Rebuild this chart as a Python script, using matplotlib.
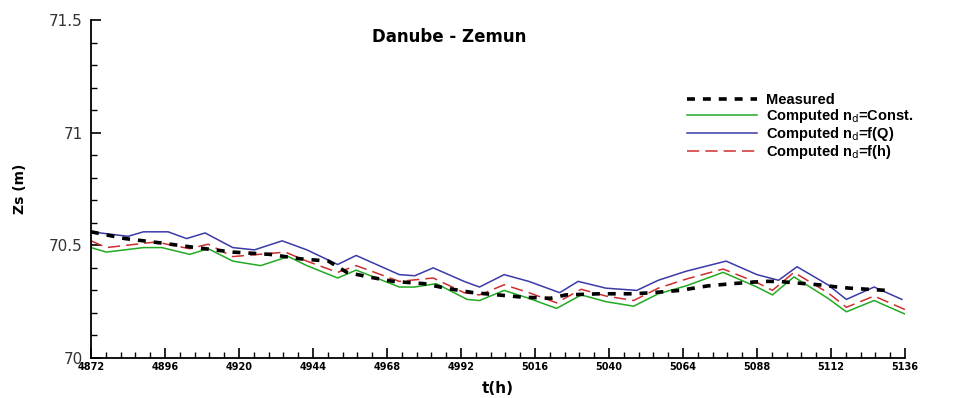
import matplotlib.pyplot as plt
from matplotlib.ticker import MultipleLocator

# measured water level
t_meas = [4872, 4883, 4895, 4906, 4918, 4930, 4940, 4949, 4955, 4962, 4970, 4980,
          4987, 4996, 5008, 5012, 5021, 5026, 5037, 5048, 5054, 5063, 5072, 5080,
          5090, 5095, 5099, 5108, 5114, 5118, 5124, 5130]
z_meas = [70.56, 70.53, 70.51, 70.49, 70.47, 70.46, 70.44, 70.43, 70.38, 70.36, 70.34, 70.33,
          70.31, 70.29, 70.275, 70.27, 70.265, 70.28, 70.285, 70.285, 70.29, 70.30, 70.32, 70.33,
          70.34, 70.34, 70.335, 70.325, 70.315, 70.31, 70.305, 70.30]

# computed, n = const
t_c = [4872, 4877, 4889, 4895, 4904, 4910, 4918, 4927, 4936, 4942, 4952, 4958, 4972, 4977,
       4984, 4994, 4998, 5006, 5014, 5023, 5031, 5039, 5048, 5056, 5065, 5077, 5088, 5093,
       5100, 5111, 5117, 5126, 5136]
z_const = [70.49, 70.47, 70.49, 70.49, 70.46, 70.485, 70.43, 70.41, 70.45, 70.41, 70.355, 70.39,
           70.315, 70.315, 70.33, 70.26, 70.255, 70.30, 70.265, 70.22, 70.28, 70.25, 70.23, 70.285,
           70.32, 70.38, 70.315, 70.28, 70.36, 70.265, 70.205, 70.255, 70.195]

# computed, n = f(Q)
t_q = [4872, 4884, 4889, 4897, 4903, 4909, 4918, 4925, 4934, 4942, 4952, 4958, 4972, 4977,
       4983, 4993, 4998, 5006, 5014, 5024, 5030, 5039, 5049, 5056, 5065, 5078, 5088, 5095,
       5101, 5111, 5117, 5126, 5135]
z_fq = [70.56, 70.54, 70.56, 70.56, 70.53, 70.555, 70.49, 70.48, 70.52, 70.48, 70.415, 70.455,
        70.37, 70.365, 70.40, 70.34, 70.315, 70.37, 70.34, 70.29, 70.34, 70.31, 70.30, 70.345,
        70.385, 70.43, 70.37, 70.345, 70.405, 70.325, 70.26, 70.315, 70.26]

# computed, n = f(h)
t_h = [4872, 4877, 4893, 4904, 4910, 4918, 4935, 4942, 4952, 4958, 4972, 4983, 4993, 4998,
       5006, 5014, 5023, 5031, 5039, 5048, 5056, 5065, 5077, 5088, 5093, 5100, 5111, 5117,
       5126, 5136]
z_fh = [70.52, 70.49, 70.515, 70.485, 70.505, 70.45, 70.47, 70.43, 70.38, 70.41, 70.34, 70.355,
        70.29, 70.28, 70.325, 70.29, 70.245, 70.305, 70.275, 70.255, 70.31, 70.35, 70.395, 70.335,
        70.30, 70.38, 70.29, 70.225, 70.275, 70.215]

fig = plt.figure(figsize=(9.55, 3.98), dpi=100)
ax = fig.add_axes([0.0953, 0.1005, 0.8523, 0.8492])

ax.plot(t_meas, z_meas, '--', color='black', lw=2.6, dashes=(2.2, 2.2), label='Measured', zorder=4)
ax.plot(t_c, z_const, '-', color='#22aa22', lw=1.1, label=r'Computed n$_{\rm d}$=Const.')
ax.plot(t_q, z_fq, '-', color='#3a3aa8', lw=1.1, label=r'Computed n$_{\rm d}$=f(Q)')
ax.plot(t_h, z_fh, '--', color='#cc2f2f', lw=1.1, dashes=(8, 4), label=r'Computed n$_{\rm d}$=f(h)')

ax.set_xlim(4872, 5136)
ax.set_ylim(70, 71.5)
ax.xaxis.set_major_locator(MultipleLocator(24))
ax.xaxis.set_minor_locator(MultipleLocator(4.8))
ax.yaxis.set_minor_locator(MultipleLocator(0.1))
ax.set_yticks([70, 70.5, 71, 71.5])
ax.set_yticklabels(['70', '70.5', '71', '71.5'])

for s in ['top', 'right']:
    ax.spines[s].set_visible(False)
ax.spines['left'].set_linewidth(1.3)
ax.spines['bottom'].set_linewidth(1.3)
ax.tick_params(which='major', direction='in', length=7, width=1.2)
ax.tick_params(which='minor', direction='in', length=4, width=1)
ax.tick_params(axis='y', labelsize=11, pad=6, labelcolor='#333333')
ax.tick_params(axis='x', labelsize=7, pad=3)
for lbl in ax.get_xticklabels():
    lbl.set_fontweight('bold')

ax.set_xlabel('t(h)', fontsize=11, fontweight='bold', labelpad=6)
ax.set_ylabel('Zs (m)', fontsize=10, fontweight='bold', labelpad=16)
ax.set_title('Danube - Zemun', fontsize=12, fontweight='bold', x=0.44, y=0.91)

ax.legend(loc='upper left', bbox_to_anchor=(0.725, 0.80), frameon=False,
          handlelength=4.8, handletextpad=0.6, labelspacing=0.0, borderaxespad=0,
          prop={'family': ['Liberation Sans Narrow', 'Liberation Sans'], 'weight': 'bold', 'size': 10.5})

fig.savefig('out.png', dpi=100)
